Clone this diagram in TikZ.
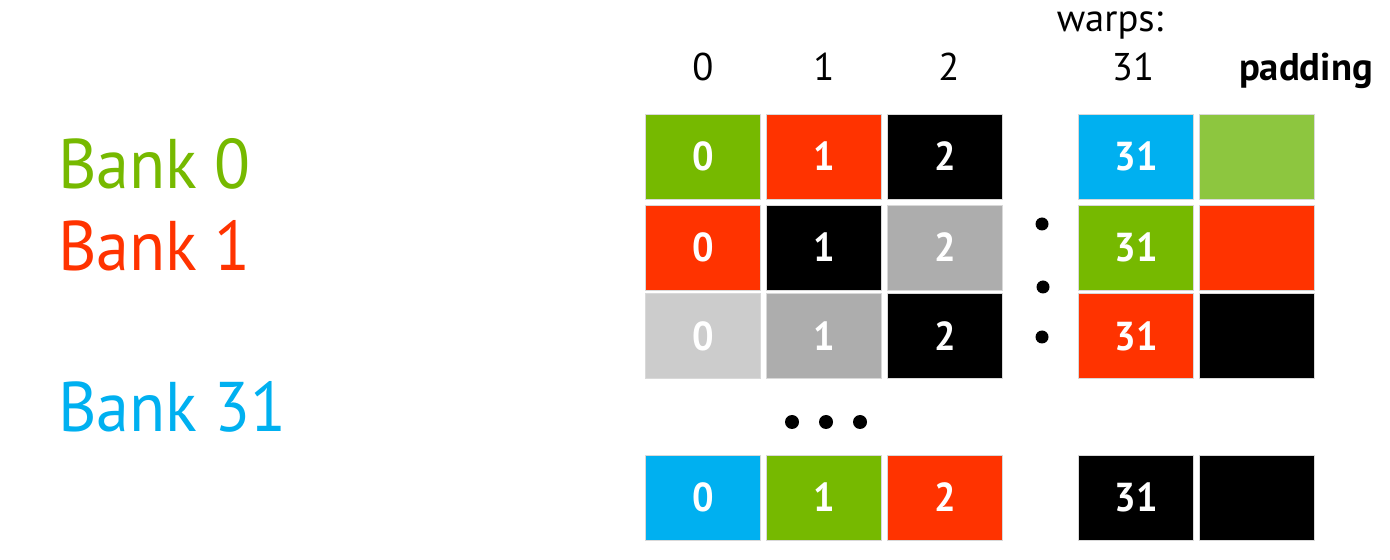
\documentclass[tikz,border=0pt]{standalone}
\usepackage{fontspec}
\setmainfont{PT Sans}
\newfontfamily\narrowfont[FakeStretch=0.94]{PT Sans}
\usepackage{xcolor}
\definecolor{nvgreen}{RGB}{118,185,0}
\definecolor{padgreen}{RGB}{141,198,63}
\definecolor{bankred}{RGB}{255,51,0}
\definecolor{bankblue}{RGB}{0,176,240}
\definecolor{lightgrey}{RGB}{204,204,204}
\definecolor{midgrey}{RGB}{173,173,173}
\tikzset{%
    bankcell/.style={%
        draw=black!15, fill=#1, text=white, inner sep=0pt,
        minimum width=2.3cm, minimum height=1.7cm,
        font=\narrowfont\bfseries\fontsize{23}{23}\selectfont
    },
    head/.style={anchor=base, font=\fontsize{22}{22}\selectfont},
    banklabel/.style={anchor=base west, font=\narrowfont\fontsize{40}{40}\selectfont, text=#1}
}

\begin{document}
\begin{tikzpicture}[x=0.02cm, y=-0.02cm]
    \useasboundingbox (0,0) rectangle (1390,560);
%-----------------------------------------------
    \node[banklabel=nvgreen] (b0) at (52,189) {Bank 0};
    \node[banklabel=bankred] (b1) at (52,271) {Bank 1};
    \node[banklabel=bankblue] (b31) at (52,432) {Bank 31};
%-----------------------------------------------
    \node[head] (warps) at (1110,32) {warps:};
    \node[head] (h0) at (703,81) {0};
    \node[head] (h1) at (824,81) {1};
    \node[head] (h2) at (949,81) {2};
    \node[head] (h31) at (1133,81) {31};
    \node[head, font=\bfseries\fontsize{22}{22}\selectfont] (hpad) at (1306,81) {padding};
%-----------------------------------------------
    \node[bankcell=nvgreen] (r0c0) at (703,156.5) {0};
    \node[bankcell=bankred] (r0c1) at (824,156.5) {1};
    \node[bankcell=black] (r0c2) at (945,156.5) {2};
    \node[bankcell=bankblue] (r0c31) at (1136,156.5) {31};
    \node[bankcell=padgreen] (r0p) at (1257,156.5) {};
%-----------------------------------------------
    \node[bankcell=bankred] (r1c0) at (703,247.5) {0};
    \node[bankcell=black] (r1c1) at (824,247.5) {1};
    \node[bankcell=midgrey] (r1c2) at (945,247.5) {2};
    \node[bankcell=nvgreen] (r1c31) at (1136,247.5) {31};
    \node[bankcell=bankred] (r1p) at (1257,247.5) {};
%-----------------------------------------------
    \node[bankcell=lightgrey] (r2c0) at (703,336) {0};
    \node[bankcell=midgrey] (r2c1) at (824,336) {1};
    \node[bankcell=black] (r2c2) at (945,336) {2};
    \node[bankcell=bankred] (r2c31) at (1136,336) {31};
    \node[bankcell=black] (r2p) at (1257,336) {};
%-----------------------------------------------
    \node[bankcell=bankblue] (r3c0) at (703,497.5) {0};
    \node[bankcell=nvgreen] (r3c1) at (824,497.5) {1};
    \node[bankcell=bankred] (r3c2) at (945,497.5) {2};
    \node[bankcell=black] (r3c31) at (1136,497.5) {31};
    \node[bankcell=black] (r3p) at (1257,497.5) {};
%-----------------------------------------------
    \fill (1042,224) circle (6.5);
    \fill (1043,287) circle (6.5);
    \fill (1042,337) circle (6.5);
    \fill (792,422) circle (7);
    \fill (826,422) circle (7);
    \fill (860,422) circle (7);
\end{tikzpicture}
\end{document}
